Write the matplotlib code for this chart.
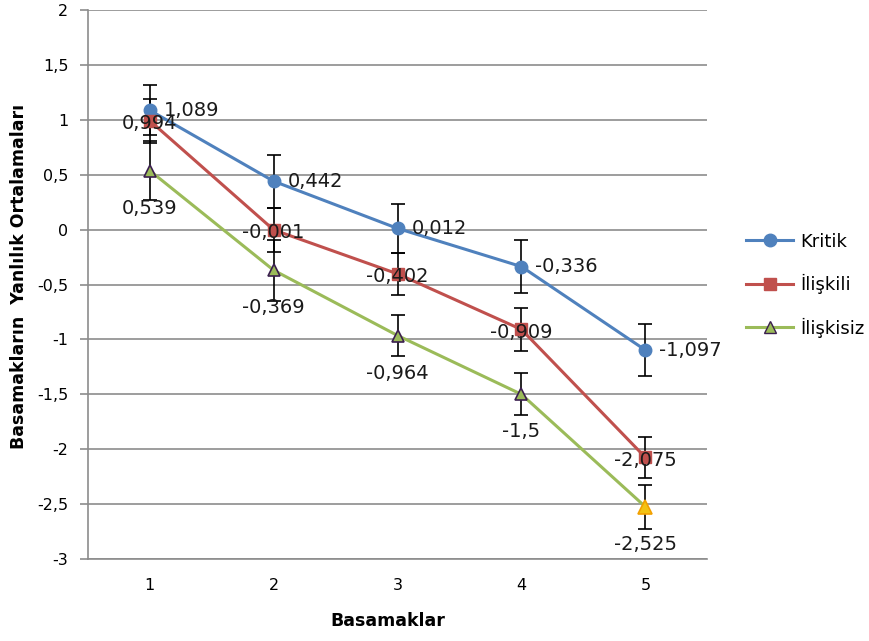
import matplotlib
matplotlib.use("Agg")
import matplotlib.pyplot as plt
from matplotlib.lines import Line2D

steps = [1, 2, 3, 4, 5]
kritik = [1.089, 0.442, 0.012, -0.336, -1.097]
iliskili = [0.994, -0.001, -0.402, -0.909, -2.075]
iliskisiz = [0.539, -0.369, -0.964, -1.5, -2.525]

kritik_err = [0.23, 0.24, 0.22, 0.24, 0.24]
iliskili_err = [0.20, 0.20, 0.19, 0.20, 0.19]
iliskisiz_err = [0.27, 0.28, 0.19, 0.19, 0.20]

y_ticks = [2, 1.5, 1, 0.5, 0, -0.5, -1, -1.5, -2, -2.5, -3]

BLUE = "#4F81BD"
RED = "#C0504D"
GREEN = "#9BBB59"
GRID = "#8C8C8C"
TEXT = "#1a1a1a"


def fmt(v):
    return f"{v:g}".replace(".", ",")


plt.rcParams["font.family"] = ["DejaVu Sans"]
fig = plt.figure(figsize=(8.69, 6.41), dpi=100)
ax = fig.add_axes([0.101, 0.128, 0.713, 0.856])

for y in y_ticks:
    ax.axhline(y, color=GRID, lw=1.2, zorder=0)

err_kw = dict(ecolor="black", elinewidth=1.2, capsize=4.8, capthick=1.2, zorder=3)
ax.errorbar(steps, kritik, yerr=kritik_err, fmt="none", **err_kw)
ax.errorbar(steps, iliskili, yerr=iliskili_err, fmt="none", **err_kw)
ax.errorbar(steps, iliskisiz, yerr=iliskisiz_err, fmt="none", **err_kw)

ax.plot(steps, kritik, color=BLUE, lw=2.2, marker="o", ms=9,
        mfc=BLUE, mec=BLUE, zorder=4)
ax.plot(steps, iliskili, color=RED, lw=2.2, marker="s", ms=9,
        mfc=RED, mec=RED, zorder=4)
ax.plot(steps, iliskisiz, color=GREEN, lw=2.2, zorder=4)
ax.plot(steps[:-1], iliskisiz[:-1], ls="none", marker="^", ms=9,
        mfc=GREEN, mec="#3b1f4f", mew=1.2, zorder=5)
ax.plot(steps[-1:], iliskisiz[-1:], ls="none", marker="^", ms=10,
        mfc="#F2C314", mec="#F2A000", mew=1.2, zorder=5)

lab_kw = dict(textcoords="offset points", fontsize=14, color=TEXT, zorder=6)
for x, v in zip(steps, kritik):
    ax.annotate(fmt(v), (x, v), xytext=(10, 0), ha="left", va="center", **lab_kw)
for x, v in zip(steps, iliskili):
    ax.annotate(fmt(v), (x, v), xytext=(0, -2), ha="center", va="center", **lab_kw)
for x, v in zip(steps, iliskisiz):
    ax.annotate(fmt(v), (x, v), xytext=(0, -27), ha="center", va="center", **lab_kw)

ax.set_xlim(0.5, 5.5)
ax.set_ylim(-3, 2)
ax.set_xticks(steps)
ax.set_xticklabels([str(s) for s in steps])
ax.set_yticks(y_ticks)
ax.set_yticklabels([fmt(v) for v in y_ticks])
ax.tick_params(axis="x", length=0, pad=14, labelsize=11.5)
ax.tick_params(axis="y", length=6, color=GRID, width=1.2, pad=8, labelsize=11.5)

for side in ["top", "right"]:
    ax.spines[side].set_visible(False)
ax.spines["left"].set_color(GRID)
ax.spines["left"].set_linewidth(1.2)
ax.spines["bottom"].set_color(GRID)
ax.spines["bottom"].set_linewidth(1.2)

ax.set_xlabel("Basamaklar", fontsize=12.5, fontweight="bold")
ax.xaxis.set_label_coords(0.484, -0.097)
ax.set_ylabel("Basamakların  Yanlılık Ortalamaları", fontsize=12.5,
              fontweight="bold")
ax.yaxis.set_label_coords(-0.096, 0.514)

handles = [
    Line2D([], [], color=BLUE, lw=2.2, marker="o", ms=9, mfc=BLUE, mec=BLUE),
    Line2D([], [], color=RED, lw=2.2, marker="s", ms=9, mfc=RED, mec=RED),
    Line2D([], [], color=GREEN, lw=2.2, marker="^", ms=9, mfc=GREEN,
           mec="#3b1f4f"),
]
fig.legend(handles, ["Kritik", "İlişkili", "İlişkisiz"], loc="center left",
           bbox_to_anchor=(0.84, 0.555), frameon=False, fontsize=13,
           handlelength=2.6, labelspacing=1.3, handletextpad=0.4)

fig.savefig("out.png", dpi=100)
